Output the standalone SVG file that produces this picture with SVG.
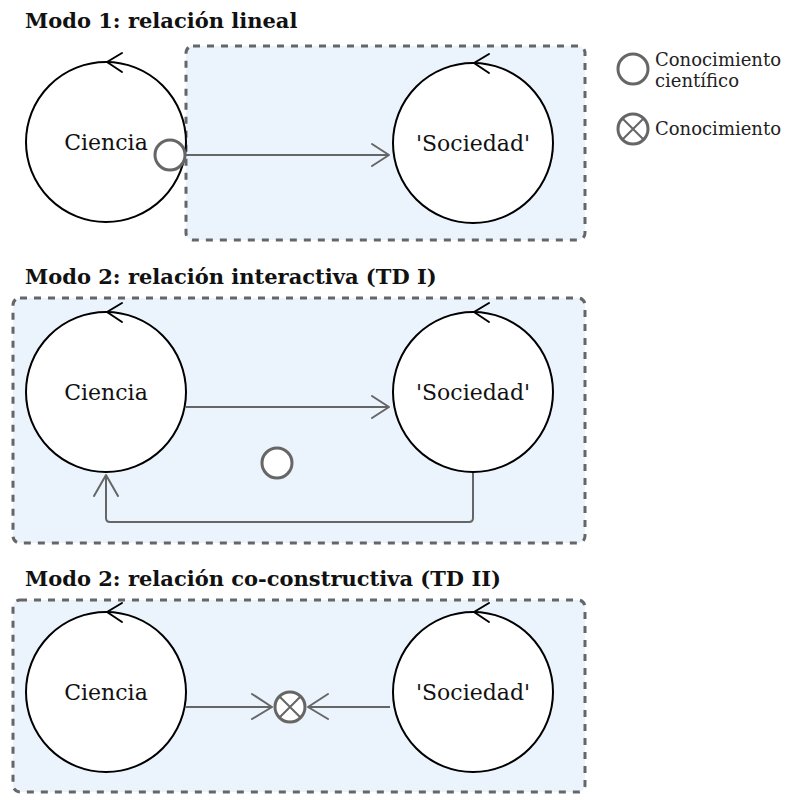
<svg xmlns="http://www.w3.org/2000/svg" width="788" height="794" viewBox="0 0 788 794">
<style>
.title{font-family:"DejaVu Serif","Liberation Serif",serif;font-weight:bold;font-size:21px;fill:#111}
.lbl{font-family:"DejaVu Serif","Liberation Serif",serif;font-size:22px;fill:#111;text-anchor:middle}
.leg{font-family:"DejaVu Serif","Liberation Serif",serif;font-size:18px;fill:#222}
.panel{fill:#ebf3fc;stroke:#666;stroke-width:3;stroke-dasharray:7 7}
.node{fill:#fff;stroke:#000;stroke-width:2}
.cyc{fill:none;stroke:#000;stroke-width:2;stroke-linecap:round;stroke-linejoin:round}
.edge{fill:none;stroke:#666;stroke-width:2;stroke-linejoin:round}
.head{fill:none;stroke:#666;stroke-width:2;stroke-linecap:round;stroke-linejoin:round}
.know{fill:#fff;stroke:#666;stroke-width:3}
</style>
<defs>
<path id="cyc" class="cyc" d="M16,-9 L1,0 L16,10"/>
</defs>
<text class="title" x="25" y="28">Modo 1: relación lineal</text>
<text class="title" x="25" y="284">Modo 2: relación interactiva (TD I)</text>
<text class="title" x="25" y="586">Modo 2: relación co-constructiva (TD II)</text>
<rect id="panel1" class="panel" x="186" y="46" width="399" height="194" rx="7"/>
<rect id="panel2" class="panel" x="13" y="298" width="572" height="245" rx="7"/>
<rect id="panel3" class="panel" x="13" y="600" width="572" height="192" rx="7"/>
<g id="connectors">
<path class="edge" d="M186,155 H389"/>
<path class="head" d="M372,144 L389,155 L372,166"/>
<path class="edge" d="M186,407 H389"/>
<path class="head" d="M372,396 L389,407 L372,418"/>
<path class="edge" d="M473,472 V518 Q473,522 469,522 H110 Q106,522 106,518 V475"/>
<path class="head" d="M94,496 L106,475 L118,496"/>
<path class="edge" d="M186,707 H272"/>
<path class="head" d="M252,694 L272,707 L252,719"/>
<path class="edge" d="M390,707 H308"/>
<path class="head" d="M328,694 L308,707 L328,719"/>
</g>
<g id="ciencia1"><circle class="node" cx="106" cy="142" r="80"/><use href="#cyc" x="106" y="62"/><text class="lbl" x="106" y="150">Ciencia</text></g>
<g id="sociedad1"><circle class="node" cx="473" cy="143" r="80"/><use href="#cyc" x="473" y="63"/><text class="lbl" x="473" y="151">'Sociedad'</text></g>
<g id="conoc1"><circle class="know" cx="170" cy="155" r="15"/></g>
<g id="ciencia2"><circle class="node" cx="106" cy="392" r="80"/><use href="#cyc" x="106" y="312"/><text class="lbl" x="106" y="400">Ciencia</text></g>
<g id="sociedad2"><circle class="node" cx="473" cy="392" r="80"/><use href="#cyc" x="473" y="312"/><text class="lbl" x="473" y="400">'Sociedad'</text></g>
<g id="conoc2"><circle class="know" cx="277" cy="463" r="15"/></g>
<g id="ciencia3"><circle class="node" cx="106" cy="692" r="80"/><use href="#cyc" x="106" y="612"/><text class="lbl" x="106" y="700">Ciencia</text></g>
<g id="sociedad3"><circle class="node" cx="473" cy="692" r="80"/><use href="#cyc" x="473" y="612"/><text class="lbl" x="473" y="700">'Sociedad'</text></g>
<g id="conoc3"><circle class="know" cx="290" cy="707" r="15"/><path class="head" d="M280,697 L300,717 M300,697 L280,717" stroke-width="3"/></g>
<g id="legend1"><circle class="know" cx="633" cy="69" r="15"/><text class="leg" x="655" y="66">Conocimiento</text><text class="leg" x="655" y="87">científico</text></g>
<g id="legend2"><circle class="know" cx="633" cy="129" r="15"/><path class="head" d="M623,119 L643,139 M643,119 L623,139" stroke-width="3"/><text class="leg" x="655" y="135">Conocimiento</text></g>
</svg>
